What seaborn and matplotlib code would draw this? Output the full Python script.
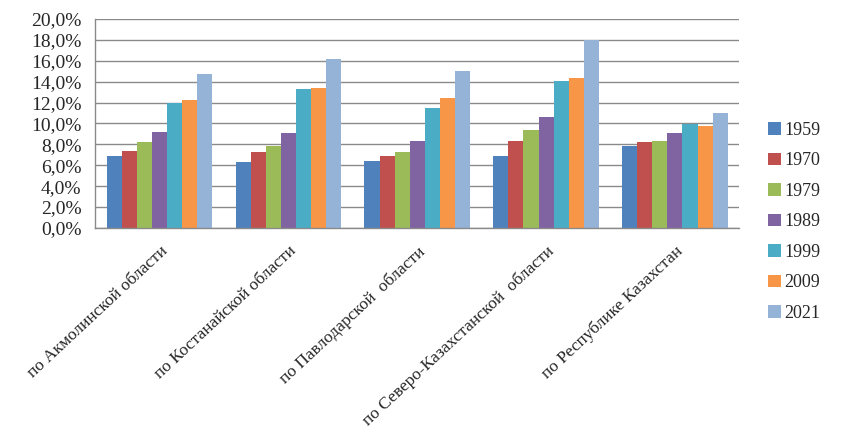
import pandas as pd
import seaborn as sns
import matplotlib.pyplot as plt
from matplotlib.ticker import FuncFormatter, FixedLocator

regions = [
    'по Акмолинской области',
    'по Костанайской области',
    'по Павлодарской  области',
    'по Северо-Казахстанской  области',
    'по Республике Казахстан',
]
years = ['1959', '1970', '1979', '1989', '1999', '2009', '2021']

# share, %, one list per census year (values per region)
y1959 = [6.9, 6.3, 6.4, 6.9, 7.85]
y1970 = [7.4, 7.3, 6.9, 8.35, 8.2]
y1979 = [8.2, 7.85, 7.3, 9.4, 8.3]
y1989 = [9.2, 9.1, 8.3, 10.65, 9.1]
y1999 = [12.0, 13.3, 11.5, 14.1, 9.95]
y2009 = [12.2, 13.4, 12.4, 14.35, 9.75]
y2021 = [14.7, 16.2, 15.0, 18.0, 11.0]

colors = ['#4F81BD', '#C0504D', '#9BBB59', '#8064A2', '#4BACC6', '#F79646', '#95B3D7']

series = [y1959, y1970, y1979, y1989, y1999, y2009, y2021]
df = pd.DataFrame([
    {'region': r, 'year': yr, 'value': v}
    for yr, vals in zip(years, series)
    for r, v in zip(regions, vals)
])

sns.set_style('white')
plt.rcParams['font.family'] = ['Liberation Serif', 'DejaVu Serif']

fig = plt.figure(figsize=(8.43, 4.41), dpi=100)
ax = fig.add_axes([0.113, 0.483, 0.764, 0.474])

sns.barplot(data=df, x='region', y='value', hue='year', hue_order=years,
            order=regions, palette=colors, width=0.82, gap=0,
            saturation=1, edgecolor='none', linewidth=0, ax=ax)

ax.set_ylim(0, 20)
ax.set_xlim(-0.5, len(regions) - 0.5)
ax.yaxis.set_major_locator(FixedLocator([i * 2 for i in range(11)]))
ax.yaxis.set_major_formatter(FuncFormatter(lambda v, p: f'{v:.1f}%'.replace('.', ',')))
ax.yaxis.grid(True, color='#8a8a8a', linewidth=1)
ax.set_axisbelow(True)

for s in ['top', 'right']:
    ax.spines[s].set_visible(False)
for s in ['left', 'bottom']:
    ax.spines[s].set_color('#8a8a8a')
    ax.spines[s].set_linewidth(1)

ax.set_xticks(range(len(regions)))
ax.set_xticks([i - 0.5 for i in range(len(regions) + 1)], minor=True)
ax.tick_params(axis='x', which='major', length=0, pad=11)
ax.tick_params(axis='x', which='minor', length=5, color='#8a8a8a', direction='out')
ax.tick_params(axis='y', length=5, color='#8a8a8a', direction='out', labelsize=14, pad=5)
ax.set_xticklabels(regions, rotation=43, ha='right', rotation_mode='anchor', fontsize=12.5)

ax.set_xlabel('')
ax.set_ylabel('')

ax.legend(loc='center left', bbox_to_anchor=(1.02, 0.03), frameon=False,
          fontsize=13, labelspacing=0.75, handlelength=0.7, handleheight=0.7,
          handletextpad=0.2)

fig.savefig('out.png', dpi=100)
